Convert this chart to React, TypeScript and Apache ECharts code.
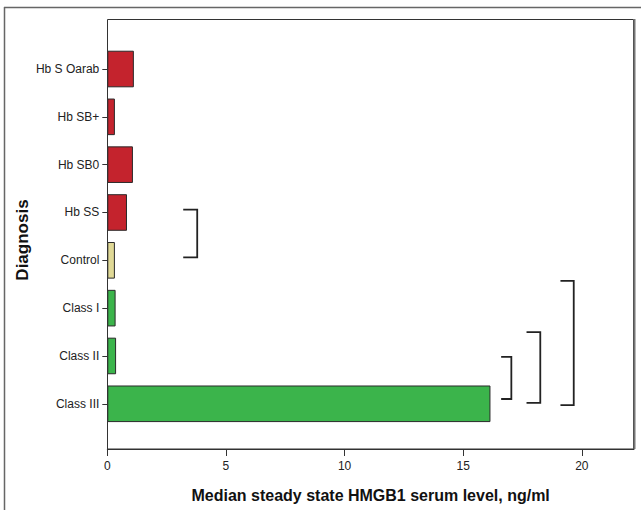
import React, { useEffect, useRef } from "react";
import * as echarts from "echarts";

const CATEGORIES = ["Hb S Oarab", "Hb SB+", "Hb SB0", "Hb SS", "Control", "Class I", "Class II", "Class III"];
const VALUES = [1.12, 0.32, 1.08, 0.83, 0.32, 0.35, 0.37, 16.15];
const COLORS = ["#C4232D", "#C4232D", "#C4232D", "#C4232D", "#E0D996", "#3BB44B", "#3BB44B", "#3BB44B"];
const X_TICKS = [0, 5, 10, 15, 20];
// brackets: [x left, x right, top (category position), bottom (category position)]
const BRACKETS = [
  [3.2, 3.79, 2.94, 3.94],
  [16.6, 17.03, 6.02, 6.9],
  [17.67, 18.25, 5.5, 6.98],
  [19.1, 19.66, 4.43, 7.03],
];

const FONT = "'Liberation Sans', Arial, sans-serif";

export default function App() {
  const ref = useRef<HTMLDivElement>(null);
  useEffect(() => {
    if (!ref.current) return;
    const chart = echarts.init(ref.current, undefined, { renderer: "svg" });
    const gridLeft = 107.3;
    const gridTop = 45.1;
    const gridBottomPx = 427.7;
    const option: any = {
      animation: false,
      backgroundColor: "#ffffff",
      textStyle: { fontFamily: FONT },
      grid: { left: gridLeft, right: 641 - 634, top: gridTop, bottom: 510 - gridBottomPx, containLabel: false },
      xAxis: {
        type: "value",
        min: 0,
        max: 22.2,
        interval: 5,
        offset: 449 - gridBottomPx,
        axisLine: { show: true, lineStyle: { color: "#333", width: 1 } },
        axisTick: { show: true, length: 7, customValues: X_TICKS, lineStyle: { color: "#333" } },
        axisLabel: { customValues: X_TICKS, color: "#222", fontSize: 12, margin: 11, fontFamily: FONT },
        splitLine: { show: false },
        name: "Median steady state HMGB1 serum level, ng/ml",
        nameLocation: "middle",
        nameGap: 38,
        nameTextStyle: { fontSize: 16, fontWeight: "bold", color: "#111", fontFamily: FONT },
      },
      yAxis: {
        type: "category",
        inverse: true,
        data: CATEGORIES,
        axisLine: { show: false },
        axisTick: { show: true, alignWithLabel: true, length: 5, lineStyle: { color: "#333" } },
        axisLabel: { color: "#222", fontSize: 12, margin: 8, fontFamily: FONT },
        splitLine: { show: false },
      },
      graphic: [
        {
          type: "line",
          shape: { x1: 4, y1: 7.5, x2: 641, y2: 7.5 },
          style: { stroke: "#666", lineWidth: 1.5 },
          silent: true,
        },
        {
          type: "line",
          shape: { x1: 4.5, y1: 7, x2: 4.5, y2: 510 },
          style: { stroke: "#666", lineWidth: 1.5 },
          silent: true,
        },
        {
          type: "rect",
          shape: { x: 107.5, y: 19.5, width: 526, height: 429.5 },
          style: { stroke: "#333", fill: null, lineWidth: 1 },
          silent: true,
          z: 10,
        },
        {
          type: "line",
          shape: { x1: 634.5, y1: 19, x2: 634.5, y2: 449 },
          style: { stroke: "#777", lineWidth: 2 },
          silent: true,
          z: 10,
        },
        {
          type: "text",
          x: 22,
          y: 240,
          rotation: Math.PI / 2,
          style: {
            text: "Diagnosis",
            fontSize: 17,
            fontWeight: "bold",
            fontFamily: FONT,
            fill: "#111",
            align: "center",
            verticalAlign: "middle",
          },
          silent: true,
        },
      ],
      series: [
        {
          type: "bar",
          data: VALUES.map((v, i) => ({ value: v, itemStyle: { color: COLORS[i] } })),
          barWidth: 36.6,
          itemStyle: { borderColor: "#2a2a2a", borderWidth: 1 },
          z: 2,
        },
        {
          type: "custom",
          data: BRACKETS,
          encode: { x: [0, 1] },
          z: 5,
          renderItem: (params: any, api: any) => {
            const x1 = api.value(0);
            const x2 = api.value(1);
            const t = api.value(2);
            const b = api.value(3);
            const p0 = api.coord([0, 0]);
            const p1 = api.coord([0, 1]);
            const band = p1[1] - p0[1];
            const yT = p0[1] + t * band;
            const yB = p0[1] + b * band;
            const xL = api.coord([x1, 0])[0];
            const xR = api.coord([x2, 0])[0];
            return {
              type: "polyline",
              shape: { points: [[xL, yT], [xR, yT], [xR, yB], [xL, yB]] },
              style: { stroke: "#222", fill: null, lineWidth: 1.8 },
            };
          },
        },
      ],
    };
    chart.setOption(option);
    return () => chart.dispose();
  }, []);
  return (
    <div
      ref={ref}
      style={{ position: "fixed", left: 0, top: 0, width: 641, height: 510, background: "#fff" }}
    />
  );
}
